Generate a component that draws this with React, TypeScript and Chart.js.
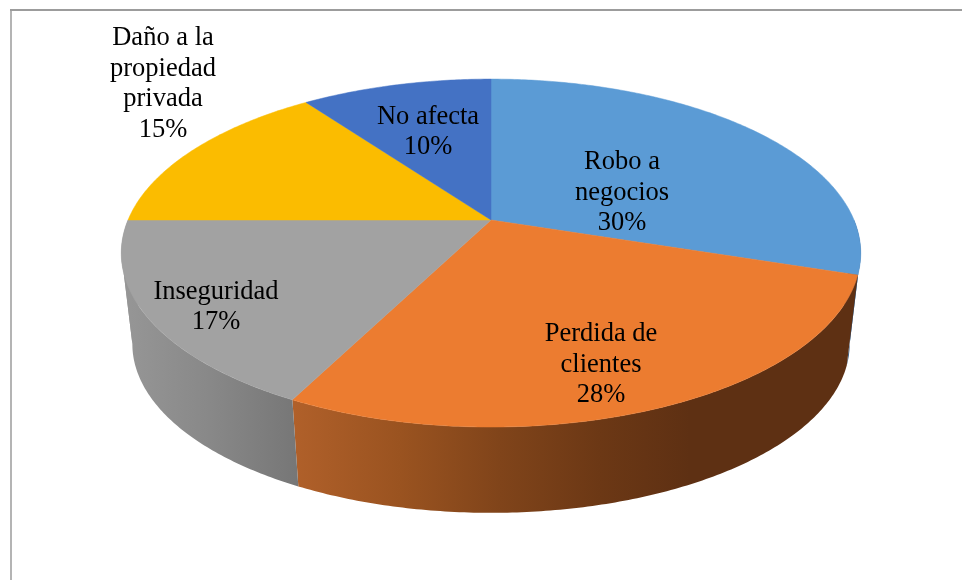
import React, { useEffect, useRef } from "react";
import { Chart, registerables } from "chart.js";

Chart.register(...registerables);

const categories = ["Robo a negocios", "Perdida de clientes", "Inseguridad", "Daño a la propiedad privada", "No afecta"];
const values = [30, 27.51, 17.49, 15, 10];
const topColors = ["#5B9BD5", "#EC7C30", "#A2A2A2", "#FBBC00", "#4472C4"];
const wrappedLabels = [
  ["Robo a", "negocios"],
  ["Perdida de", "clientes"],
  ["Inseguridad"],
  ["Daño a la", "propiedad", "privada"],
  ["No afecta"],
];

// geometry of the tilted pie (perspective projection of a disc)
const CX = 491, CY = 220, RX = 363, RY = 167.7, PERSP = 0.19;
const BASE_CY = 312, BASE_SCALE = 0.97;
const labelAnchors: [number, number][] = [[622, 193], [601, 365], [216, 307], [163, 84], [428, 132]];

function proj(theta: number, base: boolean): [number, number] {
  const u = Math.sin(theta), v = Math.cos(theta);
  const d = 1 + PERSP * v;
  const s = base ? BASE_SCALE : 1;
  const cy = base ? BASE_CY : CY;
  return [CX + (s * RX * u) / d, cy - (s * RY * v) / d];
}

function wallFill(ctx: CanvasRenderingContext2D, i: number): CanvasGradient | string {
  const g = ctx.createLinearGradient(121, 0, 861, 0);
  const stop = (x: number, c: string) => g.addColorStop((x - 121) / 740, c);
  if (i === 1) {
    stop(294, "#B0602A"); stop(400, "#9A5320"); stop(500, "#80441A"); stop(600, "#6C3815"); stop(690, "#5E3013"); stop(861, "#5E3013");
    return g;
  }
  if (i === 2) {
    stop(125, "#969696"); stop(210, "#888888"); stop(300, "#767676");
    return g;
  }
  return "#2A4F78";
}

const pie3d = {
  id: "pie3d",
  beforeDatasetDraw(chart: any, args: any) {
    const ctx: CanvasRenderingContext2D = chart.ctx;
    const arcs = args.meta.data;
    const offset = Math.PI / 2;
    // the silhouette folds where the rim reaches its far right and far left
    const foldR = Math.acos(-PERSP), foldL = 2 * Math.PI - foldR;
    ctx.save();
    // side walls: only the front half of the rim can be seen
    arcs.forEach((arc: any, i: number) => {
      const a0 = Math.max(arc.startAngle + offset, Math.PI / 2);
      const a1 = Math.min(arc.endAngle + offset, (3 * Math.PI) / 2);
      if (a1 <= a0) return;
      const cuts = [a0, ...[foldR, foldL].filter((f) => f > a0 && f < a1), a1];
      ctx.fillStyle = wallFill(ctx, i);
      for (let c = 0; c < cuts.length - 1; c++) {
        const b0 = cuts[c], b1 = cuts[c + 1];
        const n = Math.max(4, Math.ceil((b1 - b0) * 90));
        ctx.beginPath();
        for (let k = 0; k <= n; k++) {
          const p = proj(b0 + ((b1 - b0) * k) / n, false);
          k === 0 ? ctx.moveTo(p[0], p[1]) : ctx.lineTo(p[0], p[1]);
        }
        for (let k = n; k >= 0; k--) {
          const p = proj(b0 + ((b1 - b0) * k) / n, true);
          ctx.lineTo(p[0], p[1]);
        }
        ctx.closePath();
        ctx.fill();
      }
    });
    // top face
    arcs.forEach((arc: any) => {
      const a0 = arc.startAngle + offset, a1 = arc.endAngle + offset;
      const n = Math.max(4, Math.ceil((a1 - a0) * 90));
      ctx.beginPath();
      ctx.moveTo(CX, CY);
      for (let k = 0; k <= n; k++) {
        const p = proj(a0 + ((a1 - a0) * k) / n, false);
        ctx.lineTo(p[0], p[1]);
      }
      ctx.closePath();
      ctx.fillStyle = arc.options.backgroundColor;
      ctx.fill();
      ctx.strokeStyle = arc.options.backgroundColor;
      ctx.lineWidth = 0.5;
      ctx.stroke();
    });
    ctx.restore();
    return false;
  },
  afterDatasetsDraw(chart: any) {
    const ctx: CanvasRenderingContext2D = chart.ctx;
    ctx.save();
    ctx.font = '26.5px "Liberation Serif"';
    ctx.fillStyle = "#000000";
    ctx.textAlign = "center";
    ctx.textBaseline = "middle";
    const lh = 30.5;
    values.forEach((v, i) => {
      const lines = [...wrappedLabels[i], `${Math.round(v)}%`];
      const [x, y] = labelAnchors[i];
      lines.forEach((t, k) => ctx.fillText(t, x, y + (k - (lines.length - 1) / 2) * lh));
    });
    ctx.restore();
  },
  beforeDraw(chart: any) {
    const ctx: CanvasRenderingContext2D = chart.ctx;
    ctx.save();
    ctx.fillStyle = "#FFFFFF";
    ctx.fillRect(0, 0, 962, 580);
    ctx.lineWidth = 2;
    ctx.strokeStyle = "#B4B4B4";
    ctx.beginPath();
    ctx.moveTo(11, 580);
    ctx.lineTo(11, 10);
    ctx.stroke();
    ctx.strokeStyle = "#9C9C9C";
    ctx.beginPath();
    ctx.moveTo(10, 10);
    ctx.lineTo(962, 10);
    ctx.stroke();
    ctx.restore();
  },
};

export default function App() {
  const ref = useRef<HTMLCanvasElement>(null);
  useEffect(() => {
    const chart = new Chart(ref.current!, {
      type: "pie",
      data: {
        labels: categories,
        datasets: [{ data: values, backgroundColor: topColors, borderWidth: 0 }],
      },
      options: {
        animation: false,
        responsive: false,
        plugins: { legend: { display: false }, tooltip: { enabled: false } },
      },
      plugins: [pie3d],
    });
    return () => chart.destroy();
  }, []);
  return (
    <canvas
      ref={ref}
      width={962}
      height={580}
      style={{ position: "fixed", left: 0, top: 0, width: 962, height: 580, display: "block" }}
    />
  );
}
